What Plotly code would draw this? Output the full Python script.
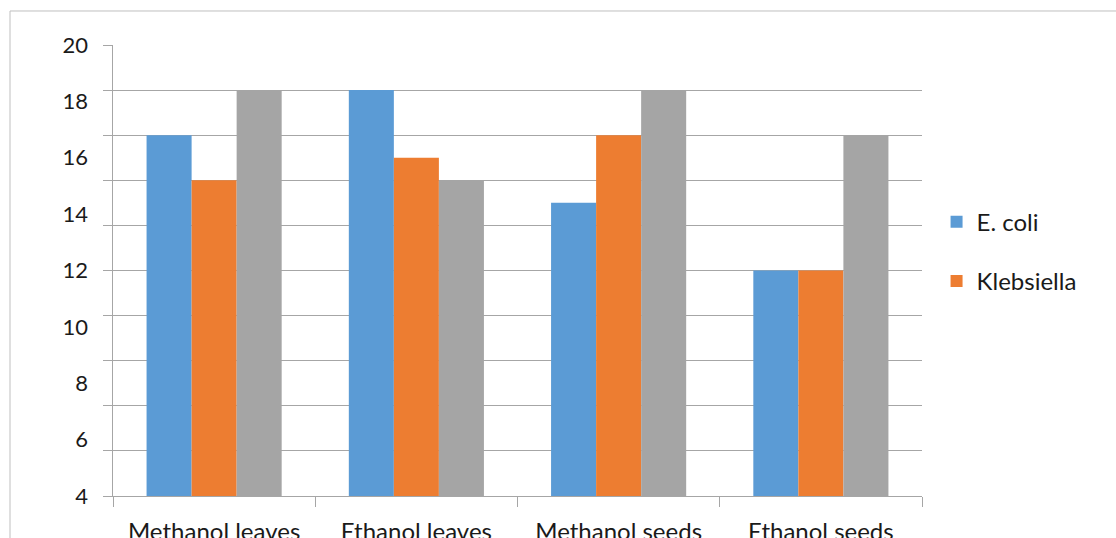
import plotly.graph_objects as go

categories = ["Methanol leaves", "Ethanol leaves", "Methanol seeds", "Ethanol seeds"]
ecoli = [16, 18, 13, 10]
klebsiella = [14, 15, 16, 10]
third_series = [18, 14, 18, 16]
y_labels = [4, 6, 8, 10, 12, 14, 16, 18, 20]

FONT = "Lato"
GRID = "#a6a6a6"
TEXT = "#1a1a1a"

fig = go.Figure()
fig.add_trace(go.Bar(x=categories, y=ecoli, name="E. coli",
                     marker=dict(color="#5B9BD5", line=dict(width=0)), legend="legend"))
fig.add_trace(go.Bar(x=categories, y=klebsiella, name="Klebsiella",
                     marker=dict(color="#ED7D31", line=dict(width=0)), legend="legend2"))
fig.add_trace(go.Bar(x=categories, y=third_series, name="Series 3",
                     marker=dict(color="#A5A5A5", line=dict(width=0)), showlegend=False))

# invisible helper trace carrying the labelled scale
fig.add_trace(go.Scatter(x=[categories[0]], y=[y_labels[0]], yaxis="y2",
                         mode="markers", marker=dict(opacity=0), showlegend=False,
                         hoverinfo="skip"))

fig.update_layout(
    width=1116, height=538,
    margin=dict(l=113, r=194, t=45, b=42, autoexpand=False),
    paper_bgcolor="white", plot_bgcolor="white",
    barmode="group", bargap=0.332, bargroupgap=0,
    font=dict(family=FONT, color=TEXT),
    xaxis=dict(
        showline=True, linecolor=GRID, linewidth=1,
        ticks="outside", tickson="boundaries", ticklen=10, tickcolor=GRID,
        ticklabelstandoff=14, automargin=False,
        tickfont=dict(size=24, family=FONT, color=TEXT),
        showgrid=False, fixedrange=True,
    ),
    yaxis=dict(
        range=[0, 20], dtick=2, showgrid=True, gridcolor=GRID, gridwidth=1,
        showline=True, linecolor=GRID, ticks="outside", ticklen=9, tickcolor=GRID,
        showticklabels=False, zeroline=False, automargin=False,
    ),
    yaxis2=dict(
        range=[4, 20], tickvals=y_labels, overlaying="y", side="left", anchor="x",
        showgrid=False, showline=False, zeroline=False, ticks="",
        ticklabelstandoff=24, automargin=False,
        tickfont=dict(size=22, family=FONT, color=TEXT),
    ),
    legend=dict(x=1.018, y=0.607, xanchor="left", yanchor="middle",
                font=dict(size=24, family=FONT, color=TEXT),
                bgcolor="rgba(0,0,0,0)", itemclick=False),
    legend2=dict(x=1.018, y=0.476, xanchor="left", yanchor="middle",
                 font=dict(size=24, family=FONT, color=TEXT),
                 bgcolor="rgba(0,0,0,0)", itemclick=False),
    shapes=[dict(type="rect", xref="paper", yref="paper",
                 x0=-0.1273, y0=-0.6, x1=1.6, y1=1.0754,
                 line=dict(color="#bfbfbf", width=1), fillcolor="rgba(0,0,0,0)",
                 layer="below")],
)

fig.write_html("out.html")
